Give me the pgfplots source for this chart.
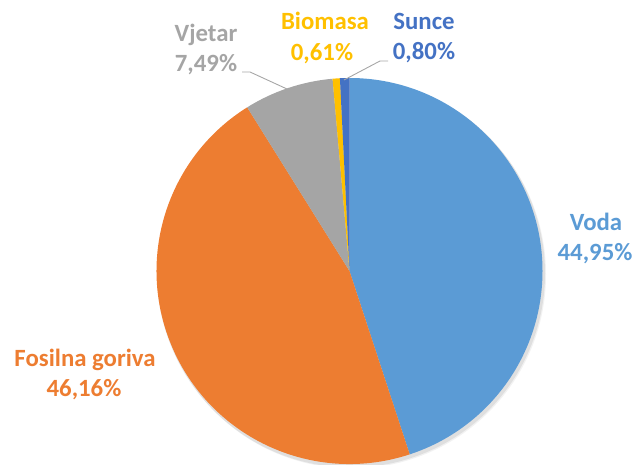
\documentclass[border=0pt]{standalone}
\usepackage{pgfplots}
\pgfplotsset{compat=1.18}
\usepackage{pgfplotstable}
\usepackage{fontspec}
\setmainfont{Carlito}
\definecolor{cVoda}{HTML}{5B9BD5}
\definecolor{cFos}{HTML}{ED7D31}
\definecolor{cVje}{HTML}{A5A5A5}
\definecolor{cBio}{HTML}{FFC000}
\definecolor{cSun}{HTML}{4472C4}
\definecolor{cLead}{HTML}{A6A6A6}
\pgfplotstableread{
name value
Voda 44.95
Fosilna 46.16
Vjetar 7.49
Biomasa 0.61
Sunce 0.80
}\piedata
\tikzset{lbl/.style={anchor=base, inner sep=0pt, font=\fontsize{24.8}{30}\selectfont\bfseries}}
\begin{document}
\begin{tikzpicture}
\pgfplotstablegetelem{0}{value}\of\piedata \pgfmathsetmacro{\aB}{90-\pgfplotsretval*3.6}
\pgfplotstablegetelem{1}{value}\of\piedata \pgfmathsetmacro{\aC}{\aB-\pgfplotsretval*3.6}
\pgfplotstablegetelem{2}{value}\of\piedata \pgfmathsetmacro{\aD}{\aC-\pgfplotsretval*3.6}
\pgfplotstablegetelem{3}{value}\of\piedata \pgfmathsetmacro{\aE}{\aD-\pgfplotsretval*3.6}
\pgfplotstablegetelem{4}{value}\of\piedata \pgfmathsetmacro{\aF}{\aE-\pgfplotsretval*3.6}
\def\aA{90}
\begin{axis}[
  width=637pt, height=465pt, scale only axis,
  xmin=0, xmax=637, ymin=0, ymax=465,
  hide axis,
]
\def\cx{349.5}\def\cy{194}\def\R{193pt}
% shadow
\fill[black, opacity=0.08] (axis cs:\cx+1.5,\cy-2.5) circle[radius=194pt];
\fill[black, opacity=0.05] (axis cs:\cx+2.5,\cy-3.5) circle[radius=194pt];
\fill[cVoda] (axis cs:\cx,\cy) -- ++(\aA:\R) arc[start angle=\aA, end angle=\aB, radius=\R] -- cycle;
\fill[cFos] (axis cs:\cx,\cy) -- ++(\aB:\R) arc[start angle=\aB, end angle=\aC, radius=\R] -- cycle;
\fill[cVje] (axis cs:\cx,\cy) -- ++(\aC:\R) arc[start angle=\aC, end angle=\aD, radius=\R] -- cycle;
\fill[cBio] (axis cs:\cx,\cy) -- ++(\aD:\R) arc[start angle=\aD, end angle=\aE, radius=\R] -- cycle;
\fill[cSun] (axis cs:\cx,\cy) -- ++(\aE:\R) arc[start angle=\aE, end angle=\aF, radius=\R] -- cycle;
% leader lines
\draw[cLead, line width=0.9pt] (axis cs:242,393) -- (axis cs:250,393) -- (axis cs:287,376);
\draw[cLead, line width=0.9pt] (axis cs:388,404) -- (axis cs:380,404) -- (axis cs:344,385);
% labels
\node[lbl, cVoda] at (axis cs:596,234) {Voda};
\node[lbl, cVoda] at (axis cs:595,204) {44,95\%};
\node[lbl, cFos] at (axis cs:85,98) {Fosilna goriva};
\node[lbl, cFos] at (axis cs:84,68) {46,16\%};
\node[lbl, cVje] at (axis cs:206,423) {Vjetar};
\node[lbl, cVje] at (axis cs:206,393) {7,49\%};
\node[lbl, cBio] at (axis cs:325,435) {Biomasa};
\node[lbl, cBio] at (axis cs:322,404) {0,61\%};
\node[lbl, cSun] at (axis cs:424,435.5) {Sunce};
\node[lbl, cSun] at (axis cs:424,405) {0,80\%};
\end{axis}
\pgfresetboundingbox
\path[use as bounding box] (current axis.south west) rectangle (current axis.north east);
\end{tikzpicture}
\end{document}
